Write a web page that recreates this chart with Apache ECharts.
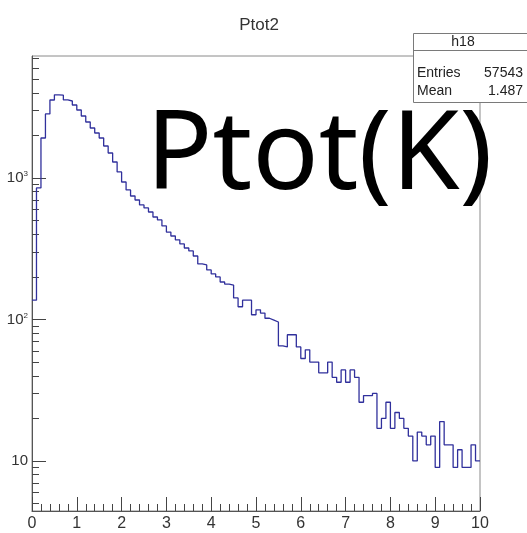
<!DOCTYPE html>
<html>
<head>
<meta charset="utf-8">
<script src="https://cdn.jsdelivr.net/npm/echarts@6/dist/echarts.min.js"></script>
<style>
html,body{margin:0;padding:0;background:#fff;}
#chart{width:527px;height:533px;}
</style>
</head>
<body>
<div id="chart"></div>
<script>
// ---- data (100 bins of width 0.1 on 0..10) ----
const binWidth = 0.1;
const counts = [
  137, 850, 1917, 2834, 3557, 3870, 3850, 3560, 3500, 3280,
  3024, 2743, 2487, 2256, 2080, 1917, 1683, 1502, 1297, 1103,
  937, 823, 746, 699, 645, 614, 575, 530, 505, 458,
  415, 389, 365, 342, 320, 305, 281, 247, 243, 224,
  210, 200, 184, 178, 175, 142, 123, 137, 137, 108,
  117, 111, 102, 99, 96, 65, 64, 78, 78, 64,
  53, 61, 50, 50, 42, 42, 50, 39, 36, 44,
  36, 44, 39, 26, 29, 29, 30, 17, 20, 26,
  17, 22, 20, 17, 15, 10, 16, 15, 13, 15,
  9, 19, 13, 13, 9, 12, 9, 9, 13, 10
];
const xTickLabels = ['0','1','2','3','4','5','6','7','8','9','10'];
const yMajorTicks = [10, 100, 1000];
const yMinorTicks = [5,6,7,8,9, 20,30,40,50,60,70,80,90, 200,300,400,500,600,700,800,900, 2000,3000,4000,5000,6000,7000];
const yRange = [4.43, 7280];
const histTitle = 'Ptot2';
const statsName = 'h18';
const statsRows = [['Entries', '57543'], ['Mean', '1.487']];
const annotation = 'Ptot(K)';

// ---- build ----
const lg = v => Math.log10(v);
const stepData = counts.map((c, i) => [+(i * binWidth).toFixed(1), lg(c)]);
stepData.push([10, lg(counts[counts.length - 1])]);

const FONT = '"Liberation Sans Narrow", "Liberation Sans", Arial, sans-serif';
const supMap = {2: '2', 3: '3'};

const chart = echarts.init(document.getElementById('chart'), null, {renderer: 'canvas'});
const option = {
  animation: false,
  backgroundColor: '#ffffff',
  title: {
    text: histTitle,
    left: 254, top: 12, textAlign: 'center',
    textStyle: {fontFamily: '"Liberation Sans", Arial, sans-serif', fontSize: 17, fontWeight: 'normal', color: '#333'}
  },
  grid: {left: 32, right: 47, top: 56, bottom: 22, show: true, borderColor: '#8a8a8a', borderWidth: 1, containLabel: false},
  xAxis: {
    type: 'value', min: 0, max: 10, interval: 1,
    axisLine: {show: true, lineStyle: {color: '#555', width: 1}},
    axisTick: {show: true, inside: true, length: 14, lineStyle: {color: '#444', width: 1}},
    minorTick: {show: true, splitNumber: 5, length: 7, lineStyle: {color: '#444', width: 1}},
    splitLine: {show: false},
    axisLabel: {
      show: true, margin: 5, fontFamily: FONT, fontSize: 16, color: '#333',
      formatter: v => xTickLabels[Math.round(v)]
    }
  },
  yAxis: [
    {
      type: 'value', position: 'left', offset: 0, min: lg(yRange[0]), max: lg(yRange[1]),
      axisLine: {show: true, lineStyle: {color: '#555', width: 1}},
      axisTick: {show: true, inside: true, length: 14, customValues: yMajorTicks.map(lg), lineStyle: {color: '#444', width: 1}},
      splitLine: {show: false},
      axisLabel: {
        show: true, margin: 4, customValues: yMajorTicks.map(lg), fontFamily: FONT, fontSize: 15, color: '#333',
        formatter: v => {
          const e = Math.round(v);
          return e === 1 ? '{b|10}' : '{b|10}{s|' + supMap[e] + '}';
        },
        rich: {
          b: {fontFamily: FONT, fontSize: 15, color: '#333', lineHeight: 16},
          s: {fontFamily: FONT, fontSize: 8, color: '#333', verticalAlign: 'top', lineHeight: 16, padding: [0, 0, 8, 0]}
        }
      }
    },
    {
      type: 'value', position: 'left', offset: 0, min: lg(yRange[0]), max: lg(yRange[1]),
      axisLine: {show: false},
      axisTick: {show: true, inside: true, length: 7, customValues: yMinorTicks.map(lg), lineStyle: {color: '#444', width: 1}},
      splitLine: {show: false},
      axisLabel: {show: false}
    }
  ],
  series: [{
    type: 'line', step: 'end', xAxisIndex: 0, yAxisIndex: 0,
    data: stepData, showSymbol: false, symbol: 'none',
    lineStyle: {color: '#30309c', width: 1.3},
    clip: true
  }],
  graphic: [
    {type: 'rect', shape: {x: 413.5, y: 33.5, width: 118, height: 69}, style: {fill: '#fff', stroke: '#7a7a7a', lineWidth: 1}, z: 100},
    {type: 'line', shape: {x1: 413.5, y1: 50.5, x2: 527, y2: 50.5}, style: {stroke: '#7a7a7a', lineWidth: 1}, z: 101},
    {type: 'text', x: 463, y: 42, style: {text: statsName, font: '14px ' + FONT, fill: '#222', textAlign: 'center', textVerticalAlign: 'middle'}, z: 102},
    {type: 'text', x: 417, y: 73, style: {text: statsRows[0][0], font: '14px ' + FONT, fill: '#222', textAlign: 'left', textVerticalAlign: 'middle'}, z: 102},
    {type: 'text', x: 523, y: 73, style: {text: statsRows[0][1], font: '14px ' + FONT, fill: '#222', textAlign: 'right', textVerticalAlign: 'middle'}, z: 102},
    {type: 'text', x: 417, y: 91, style: {text: statsRows[1][0], font: '14px ' + FONT, fill: '#222', textAlign: 'left', textVerticalAlign: 'middle'}, z: 102},
    {type: 'text', x: 523, y: 91, style: {text: statsRows[1][1], font: '14px ' + FONT, fill: '#222', textAlign: 'right', textVerticalAlign: 'middle'}, z: 102},
    {type: 'text', x: 146, y: 213, style: {text: annotation, font: '110px "Noto Sans", "Open Sans", sans-serif', fill: '#000', textAlign: 'left', textVerticalAlign: 'bottom'}, z: 90}
  ]
};
chart.setOption(option);
</script>
</body>
</html>
